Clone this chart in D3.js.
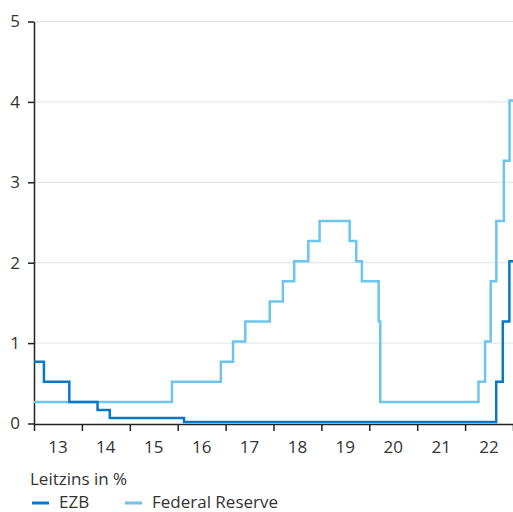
<!DOCTYPE html>
<html>
<head>
<meta charset="utf-8">
<style>
body { margin: 0; background: #fff; }
svg text { font-family: "Open Sans", "Noto Sans", sans-serif; fill: #333; }
</style>
</head>
<body>
<svg id="chart" width="513" height="512"></svg>
<script src="https://d3js.org/d3.v7.min.js"></script>
<script>

// Leitzins EZB (Hauptrefinanzierungssatz), Aenderungsdatum und neuer Satz
var ezbDates = ["2012-07-11", "2013-05-08", "2013-11-13", "2014-06-11", "2014-09-10", "2016-03-16",
                "2022-07-27", "2022-09-14", "2022-11-02"];
var ezbRates = [0.75, 0.50, 0.25, 0.15, 0.05, 0.00, 0.50, 1.25, 2.00];

// Federal Reserve (Obergrenze Zielband)
var fedDates = ["2008-12-16", "2015-12-17", "2016-12-15", "2017-03-16", "2017-06-15", "2017-12-14",
                "2018-03-22", "2018-06-14", "2018-09-27", "2018-12-20", "2019-08-01", "2019-09-19",
                "2019-10-31", "2020-03-04", "2020-03-16", "2022-03-17", "2022-05-05", "2022-06-16",
                "2022-07-28", "2022-09-22", "2022-11-03"];
var fedRates = [0.25, 0.50, 0.75, 1.00, 1.25, 1.50, 1.75, 2.00, 2.25, 2.50, 2.25, 2.00,
                1.75, 1.25, 0.25, 0.50, 1.00, 1.75, 2.50, 3.25, 4.00];

var yTicks = [0, 1, 2, 3, 4, 5];
var periodStart = "2013-02-23", periodEnd = "2022-11-29";
var seriesNames = ["EZB", "Federal Reserve"];
var seriesColors = ["#0a78c4", "#6dc5ec"];

var parse = d3.utcParse("%Y-%m-%d");
var svg = d3.select("#chart");

var d0 = parse(periodStart), d1 = parse(periodEnd);
var x = d3.scaleUtc().domain([d0, d1]).range([34, 513]);
var y = d3.scaleLinear().domain([0, 5]).range([423.5, 21.5]);

function series(dates, rates) {
  var pts = dates.map(function(d, i) { return {date: parse(d), value: rates[i]}; });
  // clip to shown period
  var out = [];
  var startVal = pts.filter(function(p) { return p.date <= d0; }).pop().value;
  out.push({date: d0, value: startVal});
  pts.forEach(function(p) { if (p.date > d0 && p.date <= d1) out.push(p); });
  out.push({date: d1, value: out[out.length - 1].value});
  return out;
}

// grid
svg.append("g")
  .selectAll("line")
  .data(yTicks.slice(1))
  .enter().append("line")
    .attr("x1", 34).attr("x2", 513)
    .attr("y1", function(d) { return y(d); })
    .attr("y2", function(d) { return y(d); })
    .attr("stroke", "#dfe3e7")
    .attr("stroke-width", 1);

// x axis: evenly spaced ticks, year labels between them
var tickVals = d3.range(11).map(function(i) { return new Date(+d0 + i * (d1 - d0) / 10); });
var xAxis = svg.append("g")
  .attr("transform", "translate(0,424)")
  .call(d3.axisBottom(x).tickValues(tickVals).tickSize(7).tickSizeOuter(0).tickFormat(""));
xAxis.select(".domain").attr("stroke", "#222").attr("stroke-width", 1.5);
xAxis.selectAll(".tick line").attr("stroke", "#222").attr("stroke-width", 1.5);

var mids = d3.range(10).map(function(i) { return new Date(+d0 + (i + 0.5) * (d1 - d0) / 10); });
svg.append("g")
  .selectAll("text")
  .data(mids)
  .enter().append("text")
    .attr("x", function(d) { return x(d); })
    .attr("y", 453)
    .attr("text-anchor", "middle")
    .attr("font-size", 17)
    .text(d3.utcFormat("%y"));

// y axis
var yAxis = svg.append("g")
  .attr("transform", "translate(34,0)")
  .call(d3.axisLeft(y).tickValues(yTicks).tickFormat(d3.format("d"))
    .tickSize(6).tickSizeOuter(0).tickPadding(8));
yAxis.select(".domain").attr("stroke", "#222").attr("stroke-width", 1.5);
yAxis.selectAll(".tick line").attr("stroke", "#222").attr("stroke-width", 1.5);
yAxis.selectAll(".tick text").attr("font-size", 17).attr("fill", "#333")
  .attr("font-family", "Open Sans, Noto Sans, sans-serif");

// lines
var line = d3.line()
  .curve(d3.curveStepAfter)
  .x(function(d) { return x(d.date); })
  .y(function(d) { return y(d.value); });

var data = [series(fedDates, fedRates), series(ezbDates, ezbRates)];
var colors = [seriesColors[1], seriesColors[0]];

svg.append("g")
  .attr("transform", "translate(0,-1.5)")
  .selectAll("path")
  .data(data)
  .enter().append("path")
    .attr("d", line)
    .attr("fill", "none")
    .attr("stroke", function(d, i) { return colors[i]; })
    .attr("stroke-width", 2.5);

// legend
svg.append("text")
  .attr("x", 30).attr("y", 485)
  .attr("font-size", 17)
  .text("Leitzins in %");

var legendX = [32, 125];
var leg = svg.append("g")
  .selectAll("g")
  .data(seriesNames)
  .enter().append("g")
    .attr("transform", function(d, i) { return "translate(" + legendX[i] + ",0)"; });
leg.append("line")
  .attr("x1", 0).attr("x2", 17)
  .attr("y1", 503).attr("y2", 503)
  .attr("stroke", function(d, i) { return seriesColors[i]; })
  .attr("stroke-width", 3);
leg.append("text")
  .attr("x", 27).attr("y", 508)
  .attr("font-size", 17)
  .text(function(d) { return d; });

</script>
</body>
</html>
